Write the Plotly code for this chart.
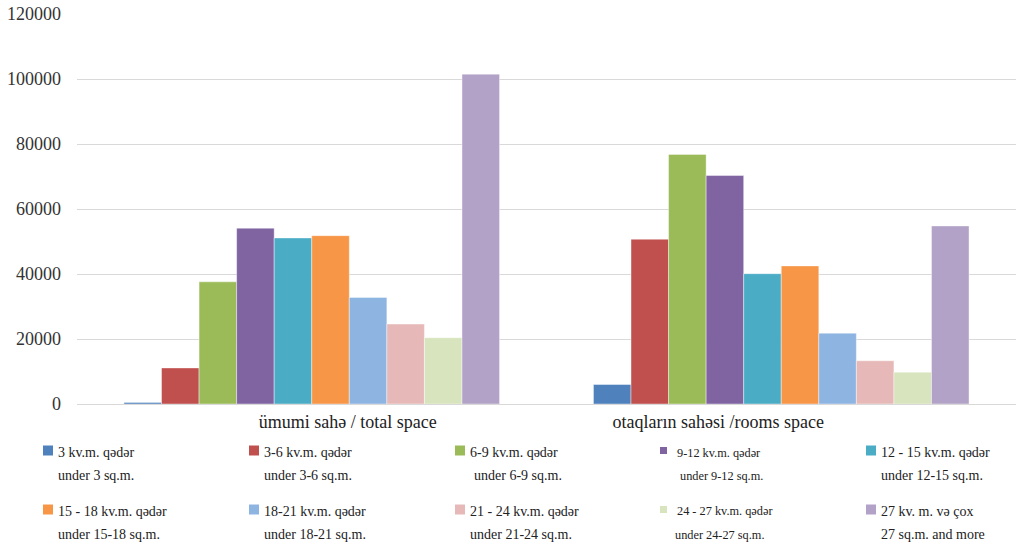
import plotly.graph_objects as go

# ---- data ----
categories = ["ümumi sahə / total space", "otaqların sahəsi /rooms space"]
series_names_az = ["3 kv.m. qədər", "3-6 kv.m. qədər", "6-9 kv.m. qədər", "9-12 kv.m. qədər",
                   "12 - 15 kv.m. qədər", "15 - 18 kv.m. qədər", "18-21 kv.m. qədər",
                   "21 - 24 kv.m. qədər", "24 - 27 kv.m. qədər", "27 kv. m. və çox"]
series_names_en = ["under 3 sq.m.", "under 3-6 sq.m.", "under 6-9 sq.m.", "under 9-12 sq.m.",
                   "under 12-15 sq.m.", "under 15-18 sq.m.", "under 18-21 sq.m.",
                   "under 21-24 sq.m.", "under 24-27 sq.m.", "27 sq.m. and more"]
total_space = [500, 11100, 37600, 54100, 51100, 51800, 32800, 24600, 20400, 101500]
rooms_space = [6000, 50700, 76800, 70300, 40100, 42500, 21800, 13300, 9800, 54800]
y_ticks = [0, 20000, 40000, 60000, 80000, 100000, 120000]

# ---- style ----
colors = ["#4F81BD", "#C0504D", "#9BBB59", "#8064A2", "#4BACC6",
          "#F79646", "#8EB4E2", "#E6B9B8", "#D7E4BD", "#B3A2C7"]
FONT = "Liberation Serif, Times New Roman, serif"
W, H = 1016, 544
L, R, T, B = 77, 0, 14, 140
PW, PH = W - L - R, H - T - B

fig = go.Figure()
for i in range(len(series_names_az)):
    fig.add_trace(go.Bar(
        x=categories, y=[total_space[i], rooms_space[i]],
        name=series_names_az[i],
        marker=dict(color=colors[i], line=dict(color="rgba(255,255,255,0.6)", width=0.7)),
        showlegend=False,
    ))

# padded tick labels to mimic the original label placement
ticktext = ["\u00a0" * 16 + categories[0], categories[1] + "\u00a0" * 28]

fig.update_layout(
    width=W, height=H,
    margin=dict(l=L, r=R, t=T, b=B, autoexpand=False),
    paper_bgcolor="white", plot_bgcolor="white",
    barmode="group", bargap=0.2, bargroupgap=0,
    font=dict(family=FONT, color="#333333"),
    xaxis=dict(tickvals=categories, ticktext=ticktext, showgrid=False, automargin=False,
               tickfont=dict(size=18, color="#222222"), showline=False, ticks="",
               ticklabelstandoff=5),
    yaxis=dict(range=[0, 120000], tickvals=y_ticks, tickformat="d", showgrid=True,
               gridcolor="#D9D9D9", automargin=False,
               gridwidth=1, zeroline=True, zerolinecolor="#D9D9D9", zerolinewidth=1,
               tickfont=dict(size=18, color="#333333"), ticks="", ticklabelstandoff=15,
               showline=False),
)

# ---- manual legend (2 rows x 5 columns, two text lines each) ----
col_x = [43, 249, 455, 660, 866]
row_y = [451, 510]
line_dy = 23
indent2 = [[0, 0, 4, 3, 0], [0, 0, 0, -2, 0]]
small_cols = {3}


def px(x):
    return (x - L) / PW


def py(y):
    return (H - B - y) / PH


for i in range(len(series_names_az)):
    r, c = divmod(i, 5)
    x0, yc = col_x[c], row_y[r]
    sq = 7 if c in small_cols else 10
    fs = 12.3 if c in small_cols else 14
    fig.add_shape(type="rect", xref="paper", yref="paper",
                  x0=px(x0), x1=px(x0 + sq), y0=py(yc + sq / 2 - 0.5), y1=py(yc - sq / 2 - 0.5),
                  fillcolor=colors[i], line=dict(width=0))
    tx = x0 + sq + (8 if c in small_cols else 3)
    fig.add_annotation(x=px(tx), y=py(yc + 1.5), xref="paper", yref="paper",
                       text=series_names_az[i], showarrow=False, xanchor="left", yanchor="middle",
                       font=dict(size=fs, family=FONT, color="#222222"))
    fig.add_annotation(x=px(tx + indent2[r][c]), y=py(yc + 1.5 + line_dy), xref="paper", yref="paper",
                       text=series_names_en[i], showarrow=False, xanchor="left", yanchor="middle",
                       font=dict(size=fs, family=FONT, color="#222222"))

fig.write_html("out.html", config={"displayModeBar": False},
               post_script="document.body.style.margin='0';")
